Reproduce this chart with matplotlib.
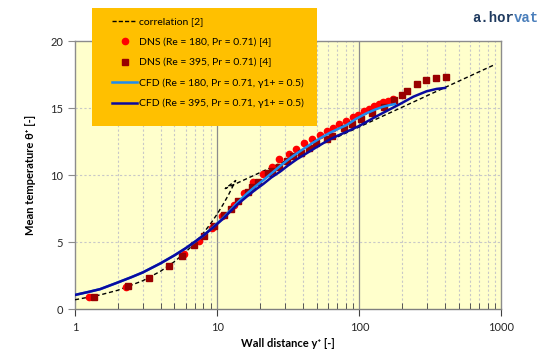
import matplotlib
matplotlib.use("Agg")
import matplotlib.pyplot as plt
from matplotlib.patches import Rectangle
from matplotlib.lines import Line2D
from matplotlib.ticker import LogLocator, FixedLocator, NullFormatter

plt.rcParams['font.family'] = ['Lato', 'DejaVu Sans']

# correlation [2]
corr_x = [1, 1.5, 2, 3, 4, 5, 6, 7, 8, 9, 10, 11, 12, 13.5, 11.4, 900]
corr_y = [0.71, 1.07, 1.42, 2.13, 2.84, 3.55, 4.26, 4.97, 5.68, 6.39, 7.1, 7.81, 8.52, 9.6, 9.0, 18.25]

# DNS Re=180
dns180_x = [1.25, 2.28, 5.88, 7.5, 9.2, 10.9, 13.2, 15.5, 17.8, 20.9, 24.2, 27.4, 31.8, 36.0,
            40.7, 46.4, 52.6, 58.9, 65.6, 72.5, 80.2, 89.6, 97.6, 108.4, 117.6, 127, 137.8,
            146.7, 158.7, 172.6]
dns180_y = [0.92, 1.66, 4.1, 5.07, 6.03, 6.95, 7.77, 8.69, 9.46, 10.06, 10.63, 11.18, 11.55, 11.92,
            12.37, 12.67, 12.97, 13.29, 13.53, 13.84, 14.04, 14.35, 14.48, 14.78, 14.95, 15.15, 15.32,
            15.42, 15.52, 15.67]

# DNS Re=395
dns395_x = [1.36, 2.35, 3.3, 4.6, 5.7, 6.9, 8.1, 9.5, 11.2, 12.6, 14.1, 16.6, 17.5, 19.4, 22.9,
            24.2, 27.4, 30.9, 34.0, 38.6, 44.4, 49.5, 58.9, 63.9, 78.4, 88.3, 102, 123, 150, 176,
            200, 217, 254, 294, 348, 405]
dns395_y = [0.92, 1.7, 2.36, 3.2, 3.97, 4.77, 5.49, 6.2, 7.04, 7.45, 8.09, 8.76, 9.09, 9.51, 10.13,
            10.3, 10.63, 11.05, 11.42, 11.62, 12.04, 12.37, 12.67, 12.94, 13.49, 13.79, 14.18, 14.6,
            15.07, 15.6, 15.97, 16.3, 16.77, 17.06, 17.21, 17.33]

# CFD Re=180
cfd180_x = [1, 1.25, 1.5, 2, 2.5, 3, 4, 5, 6, 7, 8, 9.4, 11, 12.3, 14, 16.1, 18.5, 21.1, 24, 27.7,
            31.5, 36.3, 41.5, 47.5, 54, 62.1, 71, 81.2, 95, 112.6, 130, 147, 165, 178]
cfd180_y = [1.07, 1.3, 1.5, 2.0, 2.4, 2.75, 3.43, 4.02, 4.55, 5.05, 5.5, 6.14, 6.8, 7.35, 7.98, 8.6,
            9.15, 9.63, 10.12, 10.68, 11.15, 11.62, 12.03, 12.44, 12.8, 13.16, 13.45, 13.73, 14.2,
            14.62, 14.9, 15.1, 15.23, 15.3]

# CFD Re=395
cfd395_x = [1, 1.25, 1.5, 2, 2.5, 3, 4, 5, 6, 7, 8, 9.4, 11, 12.3, 14, 16.1, 18.5, 21.1, 24, 27.7,
            31.5, 36.3, 41.5, 47.5, 54, 62.1, 71, 81.2, 101, 130, 160, 193, 240, 297, 350, 401]
cfd395_y = [1.07, 1.3, 1.5, 2.0, 2.4, 2.75, 3.43, 4.02, 4.55, 5.05, 5.5, 6.11, 6.75, 7.27, 7.85, 8.39,
            8.9, 9.34, 9.82, 10.26, 10.72, 11.18, 11.56, 11.94, 12.3, 12.67, 12.96, 13.23, 13.7, 14.35,
            14.85, 15.3, 15.85, 16.25, 16.43, 16.5]

W, H = 560, 362
fig = plt.figure(figsize=(W / 100, H / 100), dpi=100)
ax = fig.add_axes([75 / W, 1 - 309.3 / H, (501.5 - 75) / W, (309.3 - 41) / H])
ax.set_facecolor('#FFFFCC')

ax.set_xscale('log')
ax.set_xlim(1, 1000)
ax.set_ylim(0, 20)

# grid
for v in [2, 3, 4, 5, 6, 7, 8, 9, 20, 30, 40, 50, 60, 70, 80, 90, 200, 300, 400, 500, 600, 700, 800, 900]:
    ax.axvline(v, color='#C8C8C8', lw=0.8, ls=(0, (2, 2)), zorder=0.5)
for v in [10, 100]:
    ax.axvline(v, color='#8C8C8C', lw=0.9, zorder=0.5)
for v in [5, 10, 15]:
    ax.axhline(v, color='#C8C8C8', lw=0.8, ls=(0, (2, 2)), zorder=0.5)

for s in ax.spines.values():
    s.set_color('#8C8C8C')
    s.set_linewidth(1.0)
ax.spines['bottom'].set_color('#7F7F7F')

ax.xaxis.set_major_locator(FixedLocator([1, 10, 100, 1000]))
ax.set_xticklabels(['1', '10', '100', '1000'])
ax.xaxis.set_minor_locator(LogLocator(base=10, subs=range(2, 10)))
ax.xaxis.set_minor_formatter(NullFormatter())
ax.tick_params(axis='x', which='major', direction='out', length=5, color='#404040', labelsize=8, labelcolor='#262626', pad=4)
ax.tick_params(axis='x', which='minor', direction='in', length=4, color='#404040')
ax.set_yticks([0, 5, 10, 15, 20])
ax.tick_params(axis='y', which='major', direction='out', length=5, color='#8C8C8C', labelsize=8, labelcolor='#262626')

ax.plot(corr_x, corr_y, color='black', ls=(0, (3, 2)), lw=1.0, zorder=3)
ax.plot(dns180_x, dns180_y, ls='none', marker='o', ms=4.5, color='#FF0000', mec='#FF0000', zorder=4)
ax.plot(dns395_x, dns395_y, ls='none', marker='s', ms=4.5, color='#990000', mec='#990000', zorder=4)
ax.plot(cfd180_x, cfd180_y, color='#1E8CF0', lw=1.8, zorder=5)
ax.plot(cfd395_x, cfd395_y, color='#0A0AA0', lw=1.8, zorder=5)

ax.set_xlabel('Wall distance y⁺ [-]', fontsize=8, fontweight='bold', labelpad=4)
ax.set_ylabel('Mean temperature θ⁺ [-]', fontsize=8, fontweight='bold', labelpad=10)

# legend background
fig.patches.append(Rectangle((92 / W, 1 - 126 / H), (317 - 92) / W, (126 - 8) / H,
                             transform=fig.transFigure, facecolor='#FFC000', edgecolor='none', zorder=3))
handles = [
    Line2D([], [], color='black', ls=(0, (3, 1.5)), lw=1.0),
    Line2D([], [], ls='none', marker='o', ms=4.5, color='#FF0000'),
    Line2D([], [], ls='none', marker='s', ms=4.5, color='#990000'),
    Line2D([], [], color='#1E8CF0', lw=1.8),
    Line2D([], [], color='#0A0AA0', lw=1.8),
]
labels = ['correlation [2]', 'DNS (Re = 180, Pr = 0.71) [4]', 'DNS (Re = 395, Pr = 0.71) [4]',
          'CFD (Re = 180, Pr = 0.71, γ1+ = 0.5)', 'CFD (Re = 395, Pr = 0.71, γ1+ = 0.5)']
leg = fig.legend(handles, labels, loc='upper left', bbox_to_anchor=(105 / W, 1 - 10 / H),
                 frameon=False, fontsize=7.5, handlelength=2.4, handletextpad=0.2,
                 labelspacing=1.05, borderpad=0.2)
leg.set_zorder(4)

fs = 10
cw = fs * 100 / 72 * 0.6
fig.text(472 / W, 1 - 18 / H, 'a.hor', fontsize=fs, fontweight='bold', family='Liberation Mono',
         color='#1F3A5F', ha='left', va='center')
fig.text((472 + 5 * cw) / W, 1 - 18 / H, 'vat', fontsize=fs, fontweight='bold', family='Liberation Mono',
         color='#4A7EBB', ha='left', va='center')

fig.savefig('out.png', dpi=100)
